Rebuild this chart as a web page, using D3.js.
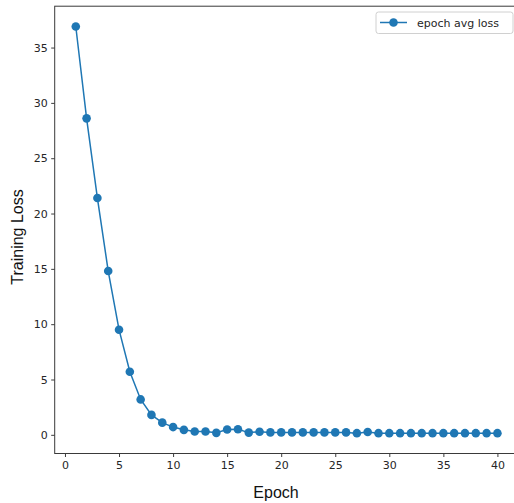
<!DOCTYPE html>
<html>
<head>
<meta charset="utf-8">
<script src="https://cdn.jsdelivr.net/npm/d3@7/dist/d3.min.js"></script>
<style>
  body { margin: 0; background: #fff; }
  svg { display: block; }
  .tick text { font-family: 'DejaVu Sans', sans-serif; font-size: 11px; fill: #262626; }
</style>
</head>
<body>
<svg id="chart" width="514" height="503"></svg>
<script>
// epochs 1..40 and average loss per epoch
const epochs = d3.range(1, 41)
const losses = [36.9, 28.6, 21.4, 14.8, 9.5, 5.7, 3.2, 1.8, 1.1, 0.7,
  0.45, 0.3, 0.3, 0.18, 0.48, 0.5, 0.2, 0.28, 0.22, 0.22,
  0.22, 0.22, 0.22, 0.22, 0.22, 0.22, 0.15, 0.26, 0.15, 0.15,
  0.15, 0.15, 0.15, 0.15, 0.15, 0.15, 0.15, 0.15, 0.15, 0.15]
const xTicks = [0, 5, 10, 15, 20, 25, 30, 35, 40]
const yTicks = [0, 5, 10, 15, 20, 25, 30, 35]
const seriesName = 'epoch avg loss'

const width = 514, height = 503
const plot = { left: 54.7, right: 518.5, top: 6.2, bottom: 453.5 }
const color = '#1f77b4'

const data = epochs.map((e, i) => ({ epoch: e, loss: losses[i] }))

// matplotlib-like 5% margins
const xExt = d3.extent(epochs), yExt = d3.extent(losses)
const xm = (xExt[1] - xExt[0]) * 0.05, ym = (yExt[1] - yExt[0]) * 0.05
const scaleX = d3.scaleLinear()
  .domain([xExt[0] - xm, xExt[1] + xm])
  .range([plot.left, plot.right])
const scaleY = d3.scaleLinear()
  .domain([yExt[0] - ym, yExt[1] + ym])
  .range([plot.bottom, plot.top])

const svg = d3.select('#chart')

// axes
const xAxis = svg.append('g')
  .attr('transform', `translate(0,${plot.bottom})`)
  .call(d3.axisBottom(scaleX).tickValues(xTicks).tickSize(3.5).tickPadding(3.5).tickSizeOuter(0))
const yAxis = svg.append('g')
  .attr('transform', `translate(${plot.left},0)`)
  .call(d3.axisLeft(scaleY).tickValues(yTicks).tickSize(3.5).tickPadding(3.5).tickSizeOuter(0))
;[xAxis, yAxis].forEach(ax => {
  ax.select('.domain').remove()
  ax.selectAll('.tick line').attr('stroke', '#262626').attr('stroke-width', 0.9)
})
xAxis.selectAll('.tick text').attr('dy', '0.8em')

// spines
svg.append('rect')
  .attr('x', plot.left).attr('y', plot.top)
  .attr('width', plot.right - plot.left).attr('height', plot.bottom - plot.top)
  .attr('fill', 'none').attr('stroke', '#3a3a3a').attr('stroke-width', 1)

// line + markers
const linePath = d3.line()
  .x(d => scaleX(d.epoch))
  .y(d => scaleY(d.loss))
svg.append('path')
  .attr('d', linePath(data))
  .attr('fill', 'none')
  .attr('stroke', color)
  .attr('stroke-width', 1.5)
svg.append('g').selectAll('circle')
  .data(data)
  .join('circle')
  .attr('cx', d => scaleX(d.epoch))
  .attr('cy', d => scaleY(d.loss))
  .attr('r', 4.3)
  .attr('fill', color)

// axis labels
svg.append('text')
  .attr('x', 276).attr('y', 498)
  .attr('text-anchor', 'middle')
  .attr('font-family', "'Liberation Sans', Arial, sans-serif")
  .attr('font-size', 16)
  .attr('fill', '#111')
  .text('Epoch')
svg.append('text')
  .attr('transform', 'translate(23,237) rotate(-90)')
  .attr('text-anchor', 'middle')
  .attr('font-family', "'Liberation Sans', Arial, sans-serif")
  .attr('font-size', 16)
  .attr('fill', '#111')
  .text('Training Loss')

// legend
const lg = svg.append('g').attr('transform', 'translate(376,12)')
lg.append('rect')
  .attr('width', 137).attr('height', 21.5)
  .attr('rx', 2.5)
  .attr('fill', '#fff').attr('fill-opacity', 0.8)
  .attr('stroke', '#d0d0d0').attr('stroke-width', 1)
lg.append('line')
  .attr('x1', 4).attr('x2', 31).attr('y1', 10.5).attr('y2', 10.5)
  .attr('stroke', color).attr('stroke-width', 1.5)
lg.append('circle')
  .attr('cx', 17.5).attr('cy', 10.5).attr('r', 4.3).attr('fill', color)
lg.append('text')
  .attr('x', 41).attr('y', 14.5)
  .attr('font-family', "'DejaVu Sans', sans-serif")
  .attr('font-size', 11)
  .attr('fill', '#262626')
  .text(seriesName)
</script>
</body>
</html>
